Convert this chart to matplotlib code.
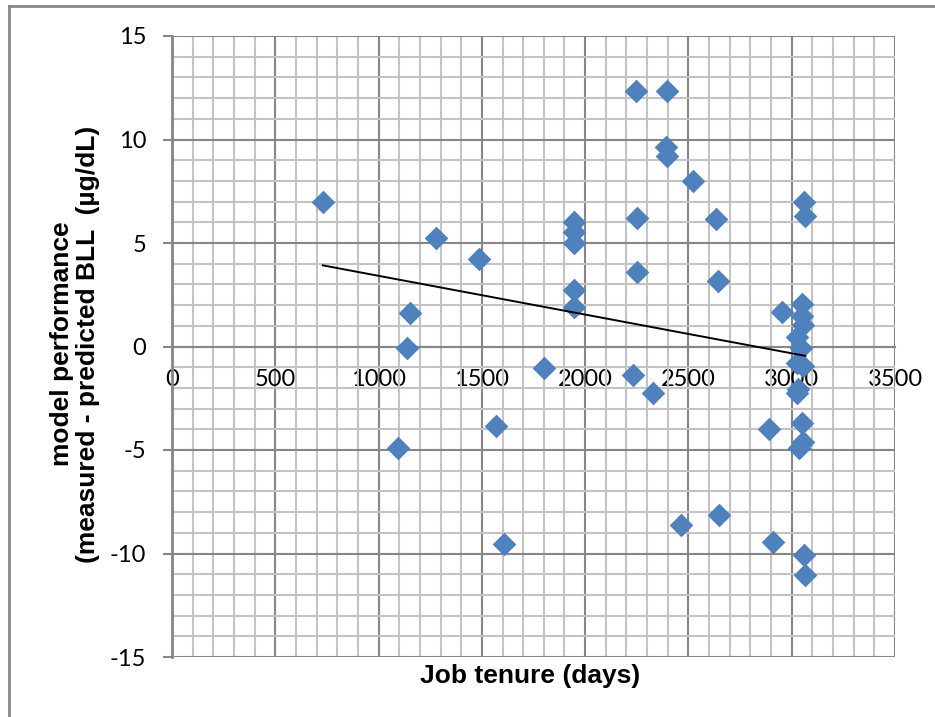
import numpy as np
import matplotlib
matplotlib.use("Agg")
import matplotlib.pyplot as plt
from matplotlib.lines import Line2D
from matplotlib.ticker import MultipleLocator

# job tenure (days) vs. measured - predicted BLL
tenure = [730, 1150, 1140, 1095, 1277, 1485, 1569, 1607, 1802,
          1945, 1945, 1945, 1945, 1945,
          2248, 2398, 2390, 2398, 2524, 2250, 2635, 2251, 2642,
          2232, 2328, 2466, 2646, 2953, 2891, 2907,
          3061, 3063, 3050, 3050, 3056, 3026, 3046, 3028, 3056,
          3030, 3026, 3052, 3055, 3034, 3059, 3066]
perf = [7.0, 1.62, -0.06, -4.9, 5.24, 4.22, -3.85, -9.52, -1.05,
        6.02, 5.55, 5.0, 2.72, 1.9,
        12.35, 12.35, 9.65, 9.2, 8.0, 6.19, 6.15, 3.62, 3.15,
        -1.38, -2.25, -8.6, -8.15, 1.66, -3.99, -9.43,
        7.0, 6.32, 2.05, 1.48, 1.05, 0.45, -0.08, -0.8, -0.95,
        -2.04, -2.25, -3.7, -4.6, -4.88, -10.07, -11.05]

xticks = [0, 500, 1000, 1500, 2000, 2500, 3000, 3500]
yticks = [-15, -10, -5, 0, 5, 10, 15]

tick_font = "Lato"
label_font = "Liberation Sans"

fig = plt.figure(figsize=(9.35, 7.17), dpi=100)
ax = fig.add_axes([172 / 935, 1 - 657 / 717, 723 / 935, 621 / 717])

ax.scatter(tenure, perf, marker="D", s=145, color="#4f81bd", linewidths=0, zorder=3)

# linear trend line
k, b = np.polyfit(tenure, perf, 1)
tx = np.array([min(tenure), max(tenure)])
ax.plot(tx, k * tx + b, color="black", linewidth=1.4, zorder=4)

# spines first (moving a spine resets the ticks)
for s in ["top", "right"]:
    ax.spines[s].set_visible(False)
ax.spines["bottom"].set_position(("data", 0))
ax.spines["bottom"].set_color("#868686")
ax.spines["bottom"].set_linewidth(1.5)
ax.spines["left"].set_color("#868686")
ax.spines["left"].set_linewidth(2)

ax.set_xlim(0, 3500)
ax.set_ylim(-15, 15)
ax.set_xticks(xticks)
ax.set_yticks(yticks)
ax.xaxis.set_minor_locator(MultipleLocator(100))
ax.yaxis.set_minor_locator(MultipleLocator(1))
ax.set_xticklabels([str(v) for v in xticks], fontfamily=tick_font, fontsize=17)
ax.set_yticklabels([str(v) for v in yticks], fontfamily=tick_font, fontsize=17)

# grid
ax.grid(which="minor", color="#c3c3c3", linewidth=1.5, zorder=0)
ax.grid(which="major", color="#868686", linewidth=1.5, zorder=0)
ax.set_axisbelow(True)

ax.tick_params(axis="x", which="both", length=0, pad=16)
ax.tick_params(axis="y", which="major", length=6.5, width=1.5, color="#868686", pad=12)
ax.tick_params(axis="y", which="minor", length=0)

ax.text(0.495, -0.031, "Job tenure (days)", transform=ax.transAxes,
        ha="center", va="center", fontfamily=label_font, fontweight="bold", fontsize=19)
fig.text(75 / 935, 1 - 344 / 717,
         "model performance\n(measured - predicted BLL  (\u00b5g/dL)",
         rotation=90, ha="center", va="center", multialignment="center",
         fontfamily=label_font, fontweight="bold", fontsize=19, linespacing=1.1)

# chart area border (top and left edges visible)
fig.add_artist(Line2D([9 / 935, 9 / 935], [0, 1 - 6 / 717], transform=fig.transFigure,
                      color="#868686", linewidth=2))
fig.add_artist(Line2D([9 / 935, 1], [1 - 6 / 717, 1 - 6 / 717], transform=fig.transFigure,
                      color="#868686", linewidth=2))

fig.savefig("out.png", dpi=100)
